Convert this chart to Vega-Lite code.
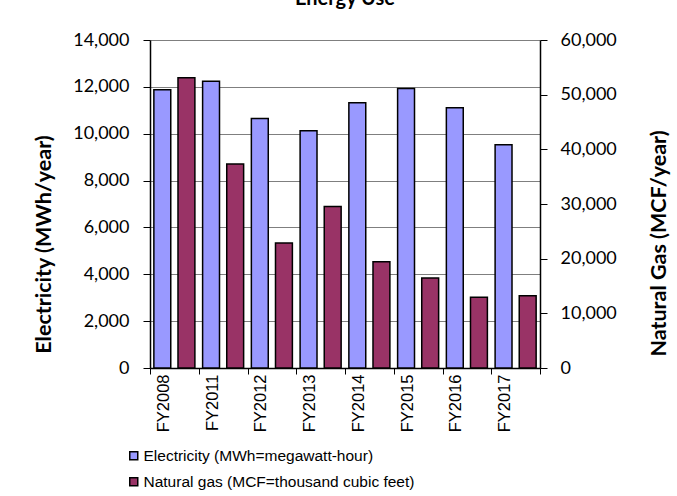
{
  "$schema": "https://vega.github.io/schema/vega-lite/v6.json",
  "autosize": "none",
  "width": 390,
  "height": 328,
  "padding": {"left": 150, "top": 40, "right": 137, "bottom": 128},
  "background": "white",
  "title": {"text": "Energy Use", "font": "Lato", "fontSize": 20, "fontWeight": "bold", "anchor": "middle", "frame": "group", "offset": 18, "dy": 12, "baseline": "alphabetic", "color": "black"},
  "config": {"view": {"stroke": null}},
  "data": {"values": [
    {"fy": "FY2008", "series": "Electricity (MWh=megawatt-hour)", "value": 11880},
    {"fy": "FY2011", "series": "Electricity (MWh=megawatt-hour)", "value": 12240},
    {"fy": "FY2012", "series": "Electricity (MWh=megawatt-hour)", "value": 10650},
    {"fy": "FY2013", "series": "Electricity (MWh=megawatt-hour)", "value": 10130},
    {"fy": "FY2014", "series": "Electricity (MWh=megawatt-hour)", "value": 11320},
    {"fy": "FY2015", "series": "Electricity (MWh=megawatt-hour)", "value": 11930},
    {"fy": "FY2016", "series": "Electricity (MWh=megawatt-hour)", "value": 11110},
    {"fy": "FY2017", "series": "Electricity (MWh=megawatt-hour)", "value": 9530},
    {"fy": "FY2008", "series": "Natural gas (MCF=thousand cubic feet)", "value": 53100},
    {"fy": "FY2011", "series": "Natural gas (MCF=thousand cubic feet)", "value": 37300},
    {"fy": "FY2012", "series": "Natural gas (MCF=thousand cubic feet)", "value": 22850},
    {"fy": "FY2013", "series": "Natural gas (MCF=thousand cubic feet)", "value": 29550},
    {"fy": "FY2014", "series": "Natural gas (MCF=thousand cubic feet)", "value": 19450},
    {"fy": "FY2015", "series": "Natural gas (MCF=thousand cubic feet)", "value": 16450},
    {"fy": "FY2016", "series": "Natural gas (MCF=thousand cubic feet)", "value": 12950},
    {"fy": "FY2017", "series": "Natural gas (MCF=thousand cubic feet)", "value": 13200}
  ]},
  "encoding": {
    "x": {"field": "fy", "type": "nominal", "sort": null, "title": null,
      "scale": {"paddingInner": 0, "paddingOuter": 0},
      "axis": {"labelAngle": -90, "labelFont": "Liberation Sans", "labelFontSize": 16.5, "labelColor": "black",
        "labelOffset": -11, "labelPadding": 0, "tickBand": "extent", "tickSize": 6, "tickColor": "black",
        "domainColor": "black", "domainWidth": 1.5, "tickWidth": 1}},
    "xOffset": {"field": "series", "type": "nominal",
      "scale": {"domain": ["Electricity (MWh=megawatt-hour)", "Natural gas (MCF=thousand cubic feet)"], "paddingInner": 0.3, "paddingOuter": 0.16}},
    "color": {"field": "series", "type": "nominal", "title": null,
      "scale": {"domain": ["Electricity (MWh=megawatt-hour)", "Natural gas (MCF=thousand cubic feet)"], "range": ["#9999FF", "#993366"]},
      "legend": {"orient": "none", "legendX": -24, "legendY": 408, "direction": "vertical",
        "symbolType": "square", "symbolSize": 64, "symbolStrokeColor": "black", "symbolStrokeWidth": 1.5,
        "labelFont": "Liberation Sans", "labelFontSize": 15.5, "labelColor": "black", "labelOffset": 2, "rowPadding": 9, "labelLimit": 400}}
  },
  "layer": [
    {
      "transform": [{"filter": "datum.series === 'Electricity (MWh=megawatt-hour)'"}],
      "mark": {"type": "bar", "stroke": "black", "strokeWidth": 1.5},
      "encoding": {
        "y": {"field": "value", "type": "quantitative", "title": "Electricity (MWh/year)",
          "scale": {"domain": [0, 14000], "nice": false},
          "axis": {"orient": "left", "values": [0, 2000, 4000, 6000, 8000, 10000, 12000, 14000], "format": ",d",
            "labelFont": "Lato", "labelFontSize": 18, "labelColor": "black", "labelPadding": 14,
            "tickSize": 7, "tickColor": "black", "domainColor": "black", "domainWidth": 1.5,
            "grid": true, "gridColor": "#7f7f7f", "gridWidth": 1,
            "titleFont": "Lato", "titleFontSize": 21.5, "titleFontWeight": "bold", "titleColor": "black", "titlePadding": 17, "titleY": 204}}
      }
    },
    {
      "transform": [{"filter": "datum.series === 'Natural gas (MCF=thousand cubic feet)'"}],
      "mark": {"type": "bar", "stroke": "black", "strokeWidth": 1.5},
      "encoding": {
        "y": {"field": "value", "type": "quantitative", "title": "Natural Gas (MCF/year)",
          "scale": {"domain": [0, 60000], "nice": false},
          "axis": {"orient": "right", "values": [0, 10000, 20000, 30000, 40000, 50000, 60000], "format": ",d",
            "labelFont": "Lato", "labelFontSize": 18, "labelColor": "black", "labelPadding": 13,
            "tickSize": 7, "tickColor": "black", "domainColor": "black", "domainWidth": 1.5, "grid": false,
            "titleFont": "Lato", "titleFontSize": 21.5, "titleFontWeight": "bold", "titleColor": "black", "titlePadding": 54, "titleAngle": 270, "titleY": 203}}
      }
    }
  ],
  "resolve": {"scale": {"y": "independent"}, "axis": {"y": "independent"}}
}
